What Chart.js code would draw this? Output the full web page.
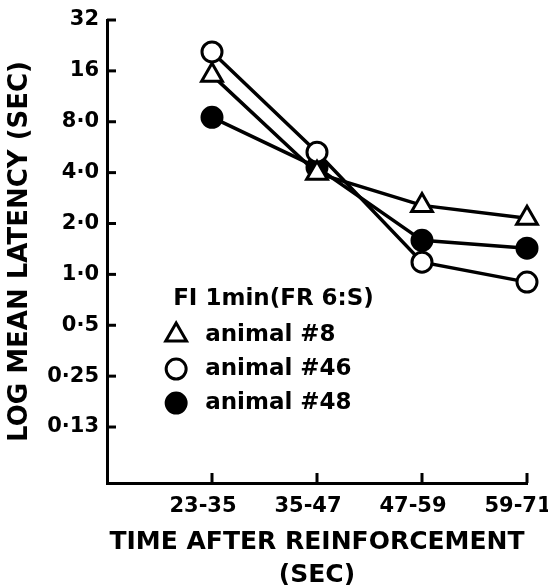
<!DOCTYPE html>
<html>
<head>
<meta charset="utf-8">
<script src="https://cdn.jsdelivr.net/npm/chart.js@4.4.1/dist/chart.umd.min.js"></script>
<style>
  html, body { margin: 0; padding: 0; background: #fff; }
</style>
</head>
<body>
<canvas id="latencyChart" width="548" height="585"></canvas>
<script>
const categories = ["23-35", "35-47", "47-59", "59-71"];
const categoryPos = [1, 2, 3, 4];
const animal8 = [15.1, 3.97, 2.56, 2.15];
const animal46 = [20.7, 5.28, 1.18, 0.9];
const animal48 = [8.5, 4.3, 1.59, 1.43];
const yTickValues = [0.125, 0.25, 0.5, 1, 2, 4, 8, 16, 32];
const yTickLabels = ["0·13", "0·25", "0·5", "1·0", "2·0", "4·0", "8·0", "16", "32"];
const seriesNames = ["animal #8", "animal #46", "animal #48"];
const legendTitle = "FI 1min(FR 6:S)";

const fontFamily = "'DejaVu Sans', sans-serif";

function toPoints(values) {
  return values.map((v, i) => ({ x: categoryPos[i], y: v }));
}

function makeDataset(label, values, style, fill) {
  return {
    label: label,
    data: toPoints(values),
    showLine: true,
    borderColor: "#000",
    borderWidth: 3.5,
    pointStyle: style,
    pointRadius: style === "triangle" ? 12 : 10,
    pointBorderWidth: 3,
    pointBorderColor: "#000",
    pointBackgroundColor: fill,
    clip: false,
  };
}

// tick marks pointing into the plot, like the original
const inwardTicks = {
  id: "inwardTicks",
  beforeDatasetsDraw(chart) {
    const { ctx, chartArea, scales } = chart;
    ctx.save();
    ctx.strokeStyle = "#000";
    ctx.lineWidth = 3;
    yTickValues.forEach((v) => {
      const y = scales.y.getPixelForValue(v);
      ctx.beginPath();
      ctx.moveTo(chartArea.left, y);
      ctx.lineTo(chartArea.left + 9, y);
      ctx.stroke();
    });
    categoryPos.forEach((v) => {
      const x = scales.x.getPixelForValue(v);
      ctx.beginPath();
      ctx.moveTo(x, chartArea.bottom);
      ctx.lineTo(x, chartArea.bottom - 10);
      ctx.stroke();
    });
    ctx.restore();
  },
};

// legend block sitting inside the plot
const innerLegend = {
  id: "innerLegend",
  afterDraw(chart) {
    const { ctx, scales } = chart;
    const x0 = scales.x.getPixelForValue(0.63);
    const yTitle = scales.y.getPixelForValue(0.714);
    const rowGap = 34;
    ctx.save();
    ctx.fillStyle = "#000";
    ctx.font = "bold 23px " + fontFamily;
    ctx.textBaseline = "middle";
    ctx.textAlign = "left";
    ctx.fillText(legendTitle, x0, yTitle);
    chart.data.datasets.forEach((ds, i) => {
      const y = yTitle + rowGap * (i + 1) + 2;
      ctx.strokeStyle = "#000";
      ctx.fillStyle = ds.pointBackgroundColor;
      ctx.lineWidth = ds.pointBorderWidth;
      Chart.helpers.drawPoint(ctx, {
        pointStyle: ds.pointStyle,
        radius: ds.pointRadius,
        borderWidth: ds.pointBorderWidth,
        rotation: 0,
      }, x0 + 3, y);
      ctx.fillStyle = "#000";
      ctx.fillText(seriesNames[i], x0 + 32, y);
    });
    ctx.restore();
  },
};

new Chart(document.getElementById("latencyChart"), {
  type: "scatter",
  data: {
    datasets: [
      makeDataset(seriesNames[0], animal8, "triangle", "#fff"),
      makeDataset(seriesNames[1], animal46, "circle", "#fff"),
      makeDataset(seriesNames[2], animal48, "circle", "#000"),
    ],
  },
  options: {
    responsive: false,
    animation: false,
    layout: { padding: { top: 20, right: 21, left: 0, bottom: 0 } },
    plugins: { legend: { display: false }, tooltip: { enabled: false } },
    scales: {
      x: {
        type: "linear",
        min: 0,
        max: 4,
        afterBuildTicks: (scale) => {
          scale.ticks = categoryPos.map((v) => ({ value: v }));
        },
        afterFit: (scale) => {
          scale.height = 102;
          scale.paddingLeft = 0;
          scale.paddingRight = 0;
        },
        grid: { display: false, drawTicks: false },
        border: { display: true, color: "#000", width: 3 },
        ticks: {
          color: "#000",
          padding: 11,
          labelOffset: -9,
          maxRotation: 0,
          autoSkip: false,
          font: { family: fontFamily, size: 21, weight: "bold" },
          callback: (v) => categories[categoryPos.indexOf(v)],
        },
        title: {
          display: true,
          text: ["TIME AFTER REINFORCEMENT", "(SEC)"],
          color: "#000",
          font: { family: fontFamily, size: 25, weight: "bold", lineHeight: 1.32 },
          padding: { top: 0, bottom: -6.5 },
        },
      },
      y: {
        type: "logarithmic",
        min: 0.0583,
        max: 32,
        afterBuildTicks: (scale) => {
          scale.ticks = yTickValues.map((v) => ({ value: v }));
        },
        afterFit: (scale) => {
          scale.width = 107;
          scale.paddingTop = 0;
          scale.paddingBottom = 0;
        },
        grid: { display: false, drawTicks: false },
        border: { display: true, color: "#000", width: 3 },
        ticks: {
          color: "#000",
          padding: 8,
          autoSkip: false,
          font: { family: fontFamily, size: 21, weight: "bold" },
          callback: (v) => yTickLabels[yTickValues.indexOf(v)],
        },
        title: {
          display: true,
          text: "LOG MEAN LATENCY (SEC)",
          color: "#000",
          font: { family: fontFamily, size: 26, weight: "bold" },
          padding: { top: 5, bottom: 0 },
        },
      },
    },
  },
  plugins: [inwardTicks, innerLegend],
});
</script>
</body>
</html>
